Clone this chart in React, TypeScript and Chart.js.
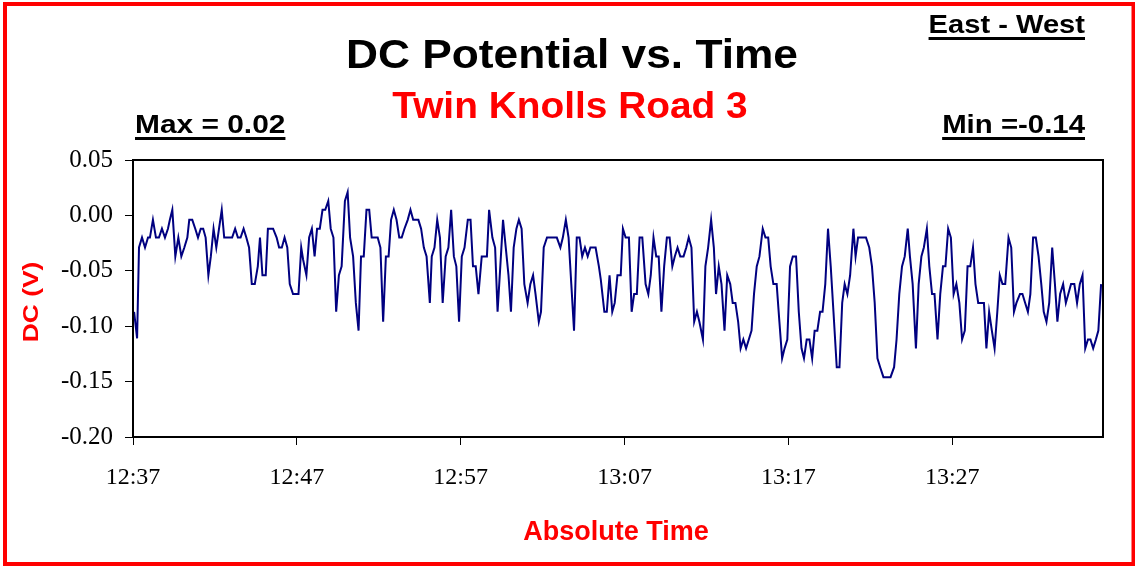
import React, { useEffect, useRef } from "react";
import { Chart, registerables } from "chart.js";

Chart.register(...registerables);

// ---- Data (seconds after 12:37:00, DC potential in volts) ----
const sampleSeconds: number[] = [
  4, 15, 22, 33, 44, 55, 62, 73, 84, 95, 106, 117, 128, 135, 144, 155, 166, 177, 188, 199, 206, 217, 228, 238, 248, 257, 266, 276, 285, 295, 305, 315, 325, 334, 344, 354, 363, 374, 384, 394, 405, 415, 425, 435,
  446, 457, 465, 474, 486, 494, 513, 526, 535, 545, 555, 565, 574, 586, 606, 616, 623, 635, 645, 655, 665, 674, 684, 694, 704, 715, 724, 734, 744, 754, 764, 776, 786, 795, 806, 816, 826, 835, 845, 855, 865, 874,
  896, 906, 916, 926, 936, 945, 955, 965, 975, 984, 994, 1006, 1016, 1026, 1045, 1055, 1065, 1075, 1087, 1094, 1104, 1114, 1124, 1134, 1145, 1155, 1165, 1175, 1184, 1194, 1204, 1214, 1226, 1236, 1245, 1255, 1265, 1277, 1296, 1304, 1316, 1326,
  1335, 1345, 1355, 1365, 1375, 1384, 1394, 1404, 1413, 1423, 1433, 1445, 1455, 1465, 1474, 1486, 1494, 1504, 1516, 1552, 1565, 1574, 1585, 1595, 1605, 1615, 1625, 1635, 1645, 1655, 1665, 1675, 1694, 1706, 1713, 1726, 1735, 1745, 1755, 1764,
  1774, 1786, 1794, 1804, 1816, 1826, 1835, 1845, 1855, 1865, 1877, 1887, 1896, 1906, 1916, 1925, 1935, 1945, 1955, 1965, 1975, 1984, 1994, 2004, 2016, 2026, 2035, 2045, 2055, 2065, 2074, 2087, 2096, 2106, 2117, 2127, 2135, 2145, 2155, 2166, 2176, 2187, 2196, 2206, 2216, 2225,
  2235, 2245, 2255, 2265, 2274, 2284, 2294, 2306, 2316, 2326, 2335, 2345, 2357, 2367, 2377, 2386, 2396, 2406, 2416, 2428, 2438, 2448, 2457, 2467, 2477, 2487, 2496, 2506, 2516, 2525, 2535, 2545, 2555, 2565, 2577, 2587, 2597, 2606, 2616, 2626, 2638, 2646, 2655,
  2684, 2696, 2706, 2716, 2726, 2736, 2748, 2774, 2787, 2796, 2806, 2816, 2826, 2837, 2845, 2855, 2867, 2877, 2887, 2896, 2907, 2916, 2926, 2935, 2946, 2956, 2966, 2975, 2985, 2995, 3005, 3015, 3026, 3036, 3046, 3056, 3066, 3076, 3085, 3095, 3116,
  3125, 3135, 3145, 3155, 3165, 3174, 3184, 3194, 3206, 3216, 3226, 3235, 3248, 3257, 3267, 3277, 3286, 3296, 3306, 3316, 3326, 3335, 3345, 3355, 3366, 3376, 3385, 3395, 3406, 3416, 3425, 3435, 3447, 3457, 3467, 3477, 3487, 3497, 3506, 3516, 3526, 3535, 3545,
];

const dcValues: number[] = [
  -0.087, -0.111, -0.029, -0.020, -0.029, -0.020, -0.020, -0.004, -0.020, -0.020, -0.012, -0.020, -0.012, -0.004, 0.005, -0.037, -0.020, -0.037, -0.029, -0.020, -0.004, -0.004, -0.012, -0.020, -0.012, -0.012, -0.020, -0.054, -0.037, -0.012, -0.029, -0.012, 0.005, -0.020, -0.020, -0.020, -0.020, -0.012, -0.020, -0.020, -0.012, -0.020, -0.029, -0.062,
  -0.062, -0.046, -0.020, -0.054, -0.054, -0.012, -0.012, -0.020, -0.029, -0.029, -0.020, -0.029, -0.062, -0.071, -0.071, -0.029, -0.040, -0.054, -0.020, -0.012, -0.037, -0.012, -0.012, 0.005, 0.005, 0.013, -0.012, -0.020, -0.087, -0.054, -0.046, 0.013, 0.021, -0.020, -0.037, -0.079, -0.104, -0.037, -0.037, 0.005, 0.005, -0.020,
  -0.020, -0.029, -0.096, -0.037, -0.037, -0.004, 0.005, -0.004, -0.020, -0.020, -0.012, -0.004, 0.005, -0.004, -0.004, -0.012, -0.029, -0.037, -0.079, -0.037, -0.029, -0.004, -0.020, -0.079, -0.037, -0.029, 0.005, -0.037, -0.046, -0.096, -0.037, -0.029, -0.004, -0.004, -0.046, -0.046, -0.071, -0.037, -0.037, 0.005, -0.020, -0.029,
  -0.087, -0.046, -0.004, -0.029, -0.054, -0.087, -0.029, -0.012, -0.004, -0.012, -0.062, -0.079, -0.062, -0.054, -0.071, -0.096, -0.087, -0.029, -0.020, -0.020, -0.029, -0.020, -0.004, -0.020, -0.062, -0.104, -0.020, -0.020, -0.037, -0.029, -0.037, -0.029, -0.029, -0.046, -0.058, -0.087, -0.087, -0.054, -0.087, -0.079,
  -0.054, -0.054, -0.012, -0.020, -0.020, -0.087, -0.071, -0.071, -0.020, -0.020, -0.062, -0.071, -0.054, -0.020, -0.037, -0.037, -0.087, -0.046, -0.020, -0.020, -0.046, -0.037, -0.029, -0.037, -0.037, -0.029, -0.020, -0.029, -0.096, -0.087, -0.096, -0.112, -0.046, -0.029, -0.004, -0.029, -0.071, -0.046, -0.062, -0.104, -0.054, -0.062, -0.079, -0.079, -0.096, -0.120,
  -0.112, -0.120, -0.112, -0.104, -0.071, -0.046, -0.037, -0.012, -0.020, -0.020, -0.046, -0.062, -0.062, -0.096, -0.129, -0.120, -0.112, -0.046, -0.037, -0.037, -0.087, -0.120, -0.129, -0.112, -0.112, -0.129, -0.104, -0.104, -0.087, -0.087, -0.062, -0.012, -0.046, -0.087, -0.137, -0.137, -0.079, -0.062, -0.071, -0.054, -0.012, -0.037, -0.020,
  -0.020, -0.029, -0.046, -0.079, -0.129, -0.137, -0.146, -0.146, -0.137, -0.112, -0.071, -0.046, -0.037, -0.012, -0.037, -0.062, -0.120, -0.062, -0.037, -0.029, -0.012, -0.046, -0.071, -0.071, -0.112, -0.071, -0.046, -0.046, -0.012, -0.020, -0.071, -0.062, -0.079, -0.112, -0.104, -0.046, -0.046, -0.029, -0.062, -0.079, -0.079,
  -0.120, -0.087, -0.104, -0.120, -0.087, -0.054, -0.062, -0.062, -0.020, -0.029, -0.087, -0.079, -0.071, -0.071, -0.079, -0.087, -0.071, -0.020, -0.020, -0.037, -0.062, -0.087, -0.096, -0.079, -0.029, -0.062, -0.096, -0.071, -0.062, -0.079, -0.071, -0.062, -0.062, -0.079, -0.062, -0.054, -0.120, -0.112, -0.112, -0.120, -0.112, -0.104, -0.062,
];

const xTickSeconds: number[] = [0, 600, 1200, 1800, 2400, 3000];
const xTickLabels: string[] = ["12:37", "12:47", "12:57", "13:07", "13:17", "13:27"];
const xAxisMaxSeconds = 3552;

const yTickValues: number[] = [0.05, 0, -0.05, -0.1, -0.15, -0.2];
const yTickLabels: string[] = ["0.05", "0.00", "-0.05", "-0.10", "-0.15", "-0.20"];

const titleText = "DC Potential vs. Time";
const subtitleText = "Twin Knolls Road 3";
const maxText = "Max = 0.02";
const minText = "Min =-0.14";
const directionText = "East - West";
const yAxisTitle = "DC (V)";
const xAxisTitle = "Absolute Time";

const SANS = "'Liberation Sans', Arial, Helvetica, sans-serif";
const SERIF = "'Liberation Serif', 'Times New Roman', Times, serif";

function drawText(
  ctx: CanvasRenderingContext2D,
  text: string,
  x: number,
  y: number,
  size: number,
  color: string,
  align: "left" | "center" | "right",
  scaleX: number,
  underline?: { offset: number; thickness: number }
) {
  ctx.save();
  ctx.font = `bold ${size}px ${SANS}`;
  ctx.fillStyle = color;
  ctx.textBaseline = "alphabetic";
  ctx.textAlign = "left";
  const w = ctx.measureText(text).width * scaleX;
  const left = align === "center" ? x - w / 2 : align === "right" ? x - w : x;
  ctx.translate(left, y);
  ctx.scale(scaleX, 1);
  ctx.fillText(text, 0, 0);
  ctx.restore();
  if (underline) {
    ctx.save();
    ctx.fillStyle = color;
    ctx.fillRect(left, y + underline.offset, w, underline.thickness);
    ctx.restore();
  }
}

const decorPlugin = {
  id: "decor",
  afterDraw(chart: any) {
    const ctx: CanvasRenderingContext2D = chart.ctx;
    const { left, top, right, bottom } = chart.chartArea;

    // plot frame
    ctx.save();
    ctx.strokeStyle = "#000000";
    ctx.lineWidth = 2;
    ctx.strokeRect(left, top, right - left, bottom - top);
    ctx.restore();

    // outer red border
    ctx.save();
    ctx.strokeStyle = "#ff0000";
    ctx.lineWidth = 4;
    ctx.strokeRect(5, 4, 1128.5, 560);
    ctx.restore();

    drawText(ctx, directionText, 1085, 33, 26, "#000000", "right", 1.12, { offset: 4, thickness: 3 });
    drawText(ctx, titleText, 572, 68, 41, "#000000", "center", 1.08);
    drawText(ctx, subtitleText, 570, 118, 37, "#ff0000", "center", 1.05);
    drawText(ctx, maxText, 135, 133, 26, "#000000", "left", 1.15, { offset: 4, thickness: 3 });
    drawText(ctx, minText, 1085, 133, 26, "#000000", "right", 1.13, { offset: 4, thickness: 3 });
    drawText(ctx, xAxisTitle, 616, 540, 27, "#ff0000", "center", 1.0);

    // rotated y-axis title
    ctx.save();
    ctx.translate(38, 302);
    ctx.rotate(-Math.PI / 2);
    ctx.font = `bold 22px ${SANS}`;
    ctx.fillStyle = "#ff0000";
    ctx.textBaseline = "alphabetic";
    ctx.textAlign = "left";
    const w = ctx.measureText(yAxisTitle).width * 1.2;
    ctx.translate(-w / 2, 0);
    ctx.scale(1.2, 1);
    ctx.fillText(yAxisTitle, 0, 0);
    ctx.restore();
  },
};

export default function App() {
  const canvasRef = useRef<HTMLCanvasElement | null>(null);

  useEffect(() => {
    if (!canvasRef.current) return;
    const points = sampleSeconds.map((s, i) => ({ x: s, y: dcValues[i] }));
    const chart = new Chart(canvasRef.current, {
      type: "line",
      data: {
        datasets: [
          {
            data: points,
            borderColor: "#000080",
            borderWidth: 2,
            pointRadius: 0,
            tension: 0,
            fill: false,
          },
        ],
      },
      options: {
        animation: false,
        responsive: false,
        devicePixelRatio: 1,
        layout: { padding: { top: 160, right: 32, left: 0, bottom: 0 } },
        plugins: {
          legend: { display: false },
          title: { display: false },
          tooltip: { enabled: false },
        },
        scales: {
          x: {
            type: "linear",
            min: 0,
            max: xAxisMaxSeconds,
            afterBuildTicks: (scale: any) => {
              scale.ticks = xTickSeconds.map((v) => ({ value: v }));
            },
            afterFit: (scale: any) => {
              scale.height = 134;
            },
            ticks: {
              autoSkip: false,
              maxRotation: 0,
              padding: 18,
              color: "#000000",
              font: { family: SERIF, size: 24 },
              callback: (v: any) => {
                const idx = xTickSeconds.indexOf(Number(v));
                return idx >= 0 ? xTickLabels[idx] : "";
              },
            },
            grid: {
              display: true,
              drawOnChartArea: false,
              drawTicks: true,
              tickLength: 8,
              color: "#000000",
              lineWidth: 1,
            },
            border: { display: true, color: "#000000", width: 2 },
          },
          y: {
            type: "linear",
            min: -0.2,
            max: 0.05,
            afterBuildTicks: (scale: any) => {
              scale.ticks = yTickValues.map((v) => ({ value: v }));
            },
            afterFit: (scale: any) => {
              scale.width = 133;
            },
            ticks: {
              padding: 12,
              color: "#000000",
              font: { family: SERIF, size: 25 },
              callback: (v: any) => {
                const idx = yTickValues.findIndex((t) => Math.abs(t - Number(v)) < 1e-9);
                return idx >= 0 ? yTickLabels[idx] : "";
              },
            },
            grid: {
              display: true,
              drawOnChartArea: false,
              drawTicks: true,
              tickLength: 8,
              color: "#000000",
              lineWidth: 1,
            },
            border: { display: true, color: "#000000", width: 2 },
          },
        },
      },
      plugins: [decorPlugin],
    });
    return () => chart.destroy();
  }, []);

  return (
    <div
      style={{
        position: "absolute",
        left: 0,
        top: 0,
        width: 1135,
        height: 571,
        background: "#ffffff",
      }}
    >
      <canvas ref={canvasRef} width={1135} height={571} style={{ width: 1135, height: 571, display: "block" }} />
    </div>
  );
}
